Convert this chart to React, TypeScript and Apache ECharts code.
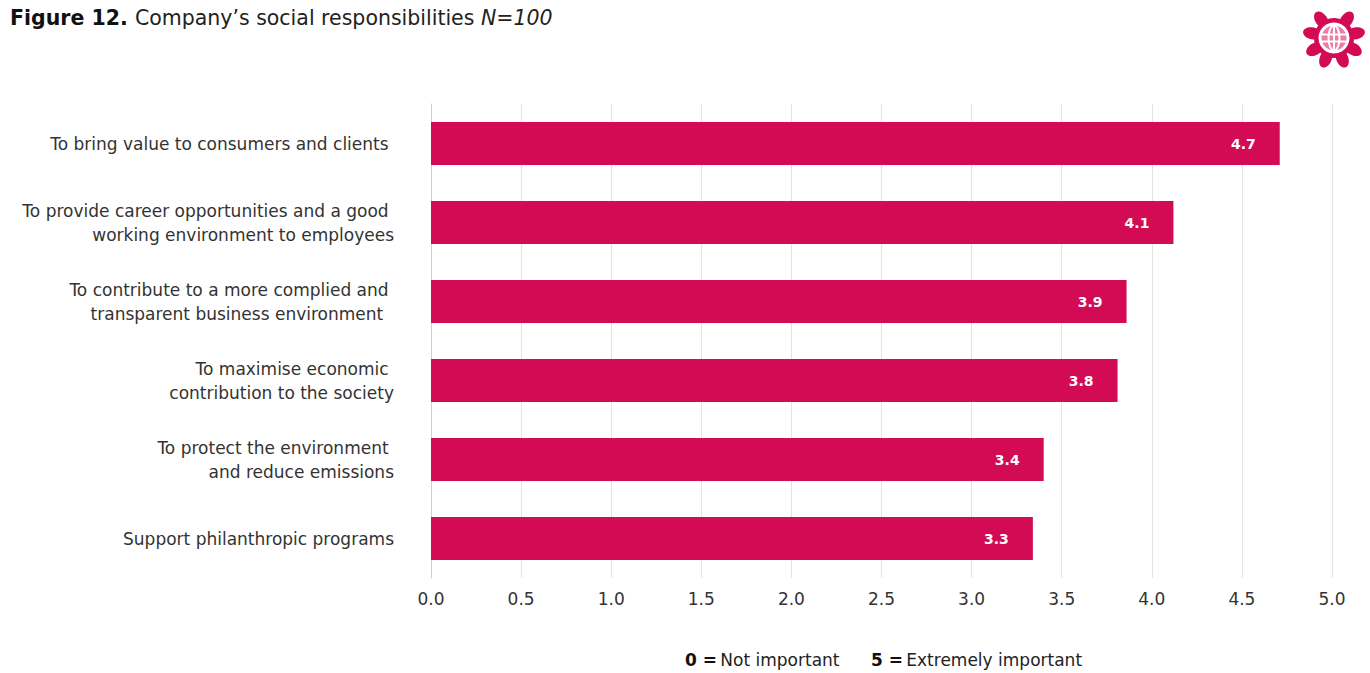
import React, { useEffect, useRef } from "react";
import * as echarts from "echarts";

const categories = [
  "To bring value to consumers and clients ",
  "To provide career opportunities and a good \nworking environment to employees",
  "To contribute to a more complied and \ntransparent business environment  ",
  "To maximise economic \ncontribution to the society",
  "To protect the environment \nand reduce emissions",
  "Support philanthropic programs",
];
const values = [4.71, 4.12, 3.86, 3.81, 3.4, 3.34];
const xTicks = { min: 0, max: 5, interval: 0.5 };

const BAR = "#d30b55";
const FONT = "'DejaVu Sans', sans-serif";

function logoElements(cx: number, cy: number) {
  const els: any[] = [];
  const angles = [35, -35, 78, -78, 120, -120, 158, -158];
  els.push({ type: "circle", shape: { cx, cy, r: 20 }, style: { fill: BAR } });
  angles.forEach((a) => {
    const t = (a * Math.PI) / 180;
    const d = 22;
    els.push({
      type: "ellipse",
      x: cx + d * Math.sin(t),
      y: cy - d * Math.cos(t),
      rotation: -t,
      shape: { cx: 0, cy: 0, rx: 6, ry: 9.5 },
      style: { fill: BAR },
    });
  });
  els.push({ type: "circle", shape: { cx, cy, r: 15.5 }, style: { fill: "#fff" } });
  els.push({ type: "circle", shape: { cx, cy, r: 12.5 }, style: { fill: "#ea7ea3" } });
  els.push({ type: "ellipse", shape: { cx, cy, rx: 5.5, ry: 12.5 }, style: { fill: "none", stroke: "#fff", lineWidth: 2 } });
  els.push({ type: "line", shape: { x1: cx, y1: cy - 12.5, x2: cx, y2: cy + 12.5 }, style: { stroke: "#fff", lineWidth: 2 } });
  els.push({ type: "line", shape: { x1: cx - 12, y1: cy - 3.5, x2: cx + 12, y2: cy - 3.5 }, style: { stroke: "#fff", lineWidth: 2 } });
  els.push({ type: "line", shape: { x1: cx - 12, y1: cy + 3.5, x2: cx + 12, y2: cy + 3.5 }, style: { stroke: "#fff", lineWidth: 2 } });
  return els;
}

export default function App() {
  const ref = useRef<HTMLDivElement>(null);
  useEffect(() => {
    if (!ref.current) return;
    const chart = echarts.init(ref.current, undefined, { renderer: "svg" });
    chart.setOption({
      animation: false,
      backgroundColor: "#fff",
      textStyle: { fontFamily: FONT },
      grid: { left: 431, right: 38, top: 104, bottom: 95 },
      xAxis: {
        type: "value",
        min: xTicks.min,
        max: xTicks.max,
        interval: xTicks.interval,
        axisLine: { show: false },
        axisTick: { show: false },
        splitLine: { show: true, lineStyle: { color: "#e3e3e3", width: 1 } },
        axisLabel: {
          formatter: (v: number) => v.toFixed(1),
          color: "#333",
          fontSize: 17,
          fontFamily: FONT,
          margin: 12,
        },
      },
      yAxis: {
        type: "category",
        inverse: true,
        data: categories,
        axisLine: { show: true, lineStyle: { color: "#cfcfcf", width: 1 } },
        axisTick: { show: false },
        axisLabel: {
          color: "#333",
          fontSize: 17,
          fontFamily: FONT,
          lineHeight: 24,
          margin: 37,
          align: "right",
        },
      },
      series: [
        {
          type: "bar",
          data: values,
          barWidth: 43,
          itemStyle: { color: BAR },
          label: {
            show: true,
            position: "insideRight",
            distance: 24,
            color: "#fff",
            fontWeight: "bold",
            fontSize: 14,
            fontFamily: FONT,
            formatter: (p: any) => Number(p.value).toFixed(1),
          },
        },
      ],
      graphic: [
        {
          type: "text",
          left: 10,
          top: 7,
          style: {
            text: "{b|Figure 12. }{n|Company\u2019s social responsibilities }{i|N=100}",
            rich: {
              b: { fontWeight: "bold", fontSize: 20.5, fill: "#111", fontFamily: FONT },
              n: { fontSize: 20.5, fill: "#222", fontFamily: FONT },
              i: { fontStyle: "italic", fontSize: 20.5, fill: "#222", fontFamily: FONT },
            },
          },
        },
        {
          type: "text",
          left: 685,
          top: 651,
          style: {
            text: "{b|0 =} {n|Not important}",
            rich: {
              b: { fontWeight: "bold", fontSize: 17, fill: "#111", fontFamily: FONT },
              n: { fontSize: 17, fill: "#222", fontFamily: FONT },
            },
          },
        },
        {
          type: "text",
          left: 871,
          top: 651,
          style: {
            text: "{b|5 =} {n|Extremely important}",
            rich: {
              b: { fontWeight: "bold", fontSize: 17, fill: "#111", fontFamily: FONT },
              n: { fontSize: 17, fill: "#222", fontFamily: FONT },
            },
          },
        },
        ...logoElements(1334, 38),
      ],
    });
    return () => chart.dispose();
  }, []);
  return (
    <div
      ref={ref}
      style={{ position: "fixed", left: 0, top: 0, width: 1370, height: 673 }}
    />
  );
}
